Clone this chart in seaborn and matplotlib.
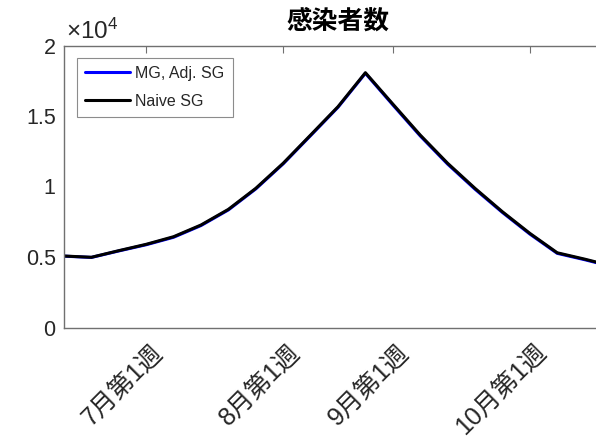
import numpy as np
import pandas as pd
import matplotlib
matplotlib.use("Agg")
import matplotlib.pyplot as plt
import matplotlib.transforms as mtransforms
import seaborn as sns
from matplotlib.ticker import FixedLocator, FuncFormatter

# Weekly number of infected people (week index from the start of the window)
weeks = list(range(21))
naive_sg = [5070, 4980, 5450, 5900, 6440, 7270, 8380, 9870, 11650, 13650, 15660,
            18070, 15850, 13650, 11650, 9870, 8210, 6680, 5300, 4850, 4360]
mg_adj_sg = [5060, 4970, 5430, 5870, 6400, 7230, 8340, 9830, 11610, 13610, 15620,
             18030, 15790, 13590, 11590, 9810, 8160, 6630, 5260, 4810, 4320]
series_names = ["MG, Adj. SG", "Naive SG"]
series_colors = ["#0000ff", "#000000"]

tick_weeks = [3, 8, 12, 17]
tick_labels = ["7月第1週", "8月第1週", "9月第1週", "10月第1週"]
y_ticks = [0, 5000, 10000, 15000, 20000]

df = pd.DataFrame({
    "week": weeks * 2,
    "infected": mg_adj_sg + naive_sg,
    "series": [series_names[0]] * len(weeks) + [series_names[1]] * len(weeks),
})

sns.set_theme(style="white")
plt.rcParams["font.family"] = ["Liberation Sans", "Noto Sans CJK JP", "DejaVu Sans"]
plt.rcParams["mathtext.fontset"] = "custom"
plt.rcParams["mathtext.rm"] = "Liberation Sans"
plt.rcParams["mathtext.it"] = "Liberation Sans:italic"

fig = plt.figure(figsize=(5.96, 4.38), dpi=100)
ax = fig.add_axes([64 / 596, (438 - 327.5) / 438, 548 / 596, 282 / 438])

sns.lineplot(data=df, x="week", y="infected", hue="series",
             palette=dict(zip(series_names, series_colors)),
             linewidth=2.2, ax=ax, legend=False, sort=False)

ax.set_xlim(0, 20)
ax.set_ylim(0, 20000)
ax.set_xlabel("")
ax.set_ylabel("")

axis_color = "#707070"
text_color = "#262626"
for side, sp in ax.spines.items():
    sp.set_color(axis_color)
    sp.set_linewidth(1.0)

ax.yaxis.set_major_locator(FixedLocator(y_ticks))
ax.yaxis.set_major_formatter(FuncFormatter(lambda v, p: f"{v / 1e4:g}"))
ax.tick_params(axis="both", direction="in", length=5, width=0.8,
               color=axis_color, top=True, right=True)
ax.tick_params(axis="y", labelsize=15.5, labelcolor=text_color, pad=6)
ax.tick_params(axis="x", pad=6)

ax.xaxis.set_major_locator(FixedLocator(tick_weeks))
ax.set_xticklabels(tick_labels, rotation=45, ha="right", va="top",
                   rotation_mode="anchor", fontsize=18, color=text_color,
                   family=["Liberation Sans", "Noto Sans CJK JP"])
# nudge the rotated week labels to the right of their ticks
shift = mtransforms.ScaledTranslation(4 / 100, -4 / 100, fig.dpi_scale_trans)
for tick in ax.xaxis.get_major_ticks():
    tick.label1.set_transform(tick.label1.get_transform() + shift)

ax.text(0.004, 1.005, r"$\times10^{4}$", transform=ax.transAxes,
        fontsize=17.5, color=text_color, ha="left", va="bottom")

ax.set_title("感染者数", fontsize=18.5, fontweight="bold",
             family=["Noto Sans CJK JP"], color="#000000", pad=12)

handles = [plt.Line2D([], [], color=c, linewidth=2.2) for c in series_colors]
leg = ax.legend(handles, series_names, loc="upper left",
                bbox_to_anchor=(13 / 548, 1 - 12.5 / 282),
                fontsize=11.5, frameon=True, fancybox=False,
                handlelength=2.8, handletextpad=0.35,
                borderpad=0.5, labelspacing=0.8, borderaxespad=0)
leg.get_frame().set_edgecolor("#707070")
leg.get_frame().set_linewidth(0.8)
for t in leg.get_texts():
    t.set_color(text_color)

fig.savefig("out.png", dpi=100)
